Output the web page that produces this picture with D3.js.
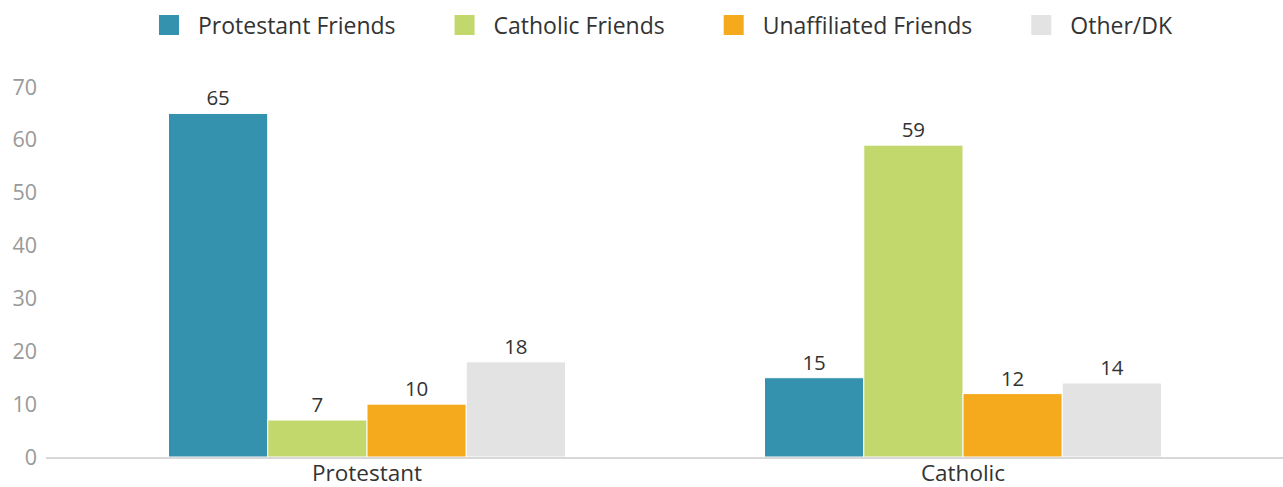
<!DOCTYPE html>
<html><head><meta charset="utf-8">
<script src="https://cdn.jsdelivr.net/npm/d3@7/dist/d3.min.js"></script>
<style>body{margin:0;background:#fff;}svg{display:block;font-family:"Open Sans",sans-serif;}</style>
</head><body>
<svg id="c" width="1283" height="487"></svg>
<script>
const categories = ["Protestant", "Catholic"];
const seriesNames = ["Protestant Friends", "Catholic Friends", "Unaffiliated Friends", "Other/DK"];
const seriesColors = ["#3592ae", "#c3d86c", "#f5aa1e", "#e3e3e3"];
const protestantFriends = [65, 15];
const catholicFriends = [7, 59];
const unaffiliatedFriends = [10, 12];
const otherDK = [18, 14];
const yTicks = [0, 10, 20, 30, 40, 50, 60, 70];

const seriesValues = [protestantFriends, catholicFriends, unaffiliatedFriends, otherDK];
const svg = d3.select("#c");

const y = d3.scaleLinear().domain([0, 70]).range([457, 87]);
const x0 = d3.scaleBand().domain(categories).range([69, 1261]).paddingInner(0).paddingOuter(0);
const groupW = 397;
const x1 = d3.scaleBand().domain(seriesNames).range([0, groupW]).padding(0);

// y tick labels
svg.append("g").selectAll("text").data(yTicks).join("text")
  .attr("x", 37).attr("y", d => y(d)).attr("dy", "0.35em")
  .attr("text-anchor", "end").attr("font-size", 21.5).attr("fill", "#999")
  .text(d => d);

// bars
const groups = svg.append("g").selectAll("g").data(categories).join("g")
  .attr("transform", c => `translate(${x0(c) + (x0.bandwidth() - groupW) / 2},0)`);
groups.each(function(c, ci) {
  const g = d3.select(this);
  seriesNames.forEach((s, si) => {
    const v = seriesValues[si][ci];
    g.append("rect")
      .attr("x", x1(s)).attr("width", x1.bandwidth())
      .attr("y", y(v)).attr("height", y(0) - y(v))
      .attr("fill", seriesColors[si]).attr("stroke", "#fff").attr("stroke-width", 1);
    g.append("text")
      .attr("x", x1(s) + x1.bandwidth() / 2).attr("y", y(v) - 8)
      .attr("text-anchor", "middle").attr("font-size", 20.5).attr("fill", "#333")
      .text(v);
  });
});

// baseline axis
svg.append("line").attr("x1", 46).attr("x2", 1283).attr("y1", y(0) + 1).attr("y2", y(0) + 1)
  .attr("stroke", "#d8d8d8").attr("stroke-width", 2);

// x axis labels
svg.append("g").selectAll("text").data(categories).join("text")
  .attr("x", c => x0(c) + x0.bandwidth() / 2).attr("y", 480.5)
  .attr("text-anchor", "middle").attr("font-size", 22.5).attr("fill", "#333")
  .text(c => c);

// legend
const leg = svg.append("g");
let lx = 159;
seriesNames.forEach((s, i) => {
  leg.append("rect").attr("x", lx).attr("y", 15).attr("width", 20).attr("height", 20).attr("fill", seriesColors[i]);
  const t = leg.append("text").attr("x", lx + 39).attr("y", 33.5)
    .attr("font-size", 23).attr("fill", "#333").text(s);
  lx += 39 + t.node().getComputedTextLength() + 59;
});
</script>
</body></html>
